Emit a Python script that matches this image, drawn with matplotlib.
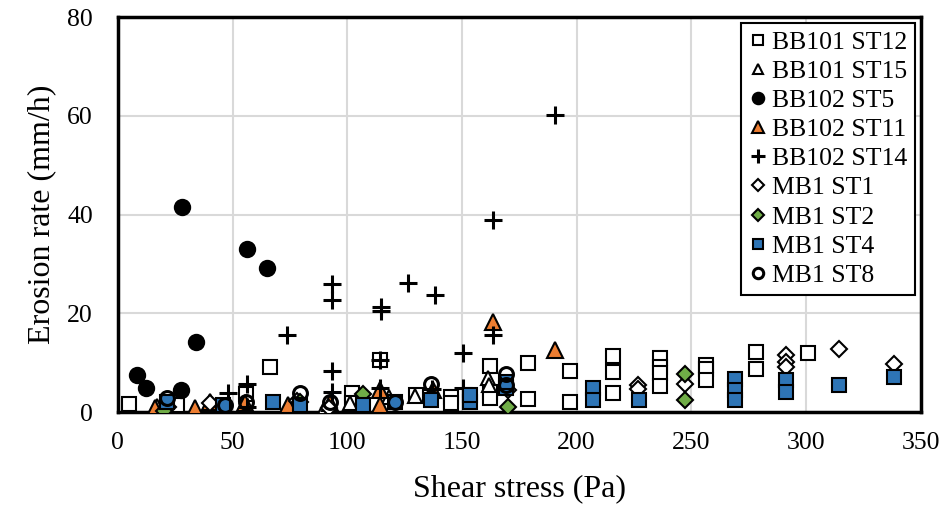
import matplotlib.pyplot as plt

plt.rcParams['font.family'] = ['Liberation Serif', 'DejaVu Serif']

# BB101 ST12 (open squares)
bb101_st12_x = [5, 25.6, 56, 66.3, 102, 102, 114.2, 130, 145.4, 145.4, 162.2, 162.2, 162.2,
                178.9, 178.9, 197, 197, 215.9, 215.9, 215.9, 236.3, 236.3, 236.3, 236.3,
                256.6, 256.6, 256.6, 278.4, 278.4, 301]
bb101_st12_y = [1.6, 1.4, 3.6, 9.2, 3.8, 1.8, 10.5, 3.4, 3.1, 1.8, 9.3, 4.0, 2.8,
                9.9, 2.6, 8.3, 2.1, 11.3, 8.2, 3.8, 10.9, 9.2, 7.9, 5.3,
                9.6, 8.8, 6.5, 12.2, 8.8, 11.9]

# BB101 ST15 (open triangles)
bb101_st15_x = [16.9, 40, 89.5, 101, 118, 129.5, 161.4, 162]
bb101_st15_y = [1.2, 2.0, 0.3, 1.8, 3.0, 3.2, 7.0, 5.5]

# BB102 ST5 (filled circles)
bb102_st5_x = [8.3, 12.2, 27.5, 27.8, 34, 56.1, 64.8]
bb102_st5_y = [7.5, 4.9, 4.5, 41.6, 14.2, 33.0, 29.2]

# BB102 ST11 (orange triangles)
bb102_st11_x = [16.1, 33.6, 40, 55.4, 74.2, 92.4, 114.2, 114.2, 137.5, 163.6, 190.8]
bb102_st11_y = [0.8, 0.8, 2.1, 1.8, 1.4, 1.8, 4.5, 1.5, 4.4, 18.3, 12.6]

# BB102 ST14 (plus)
bb102_st14_x = [48.1, 56.1, 56.1, 73.8, 93.4, 93.4, 93.4, 93.4, 114.9, 114.9, 114.2, 114.2,
                126.3, 137, 138.2, 150.4, 150.4, 163.6, 163.6, 190.5]
bb102_st14_y = [3.8, 5.8, 1.0, 15.6, 26.0, 22.7, 8.3, 4.1, 21.3, 20.5, 10.5, 5.0,
                26.2, 4.6, 23.8, 12.0, 4.8, 38.9, 15.6, 60.1]

# MB1 ST1 (open diamonds)
mb1_st1_x = [22, 40, 78, 92, 170, 226.8, 226.8, 247.2, 291.2, 291.2, 291.2, 314.4, 338.3]
mb1_st1_y = [1.0, 1.8, 2.2, 0.8, 4.5, 5.5, 4.6, 5.8, 11.5, 10.2, 9.2, 12.9, 9.8]

# MB1 ST2 (green diamonds)
mb1_st2_x = [20, 79.3, 107, 170.1, 247.2, 247.2]
mb1_st2_y = [0.3, 2.1, 3.6, 1.1, 7.8, 2.4]

# MB1 ST4 (blue squares)
mb1_st4_x = [21.2, 45.9, 67.7, 79.3, 107, 120.7, 136.7, 153.4, 153.4, 169.4, 169.4,
             207.2, 207.2, 227.2, 269, 269, 269, 291.2, 291.2, 314.4, 338.3]
mb1_st4_y = [2.1, 1.4, 2.1, 1.4, 1.4, 2.1, 2.4, 2.1, 3.4, 4.8, 6.1,
             4.8, 2.4, 2.4, 6.8, 4.5, 2.4, 6.5, 4.1, 5.5, 7.2]

# MB1 ST8 (open circles)
mb1_st8_x = [21.2, 46.6, 56, 79.3, 92.4, 120.7, 136.7, 169.4, 169.4]
mb1_st8_y = [2.8, 1.4, 2.1, 3.8, 2.0, 2.1, 5.8, 7.8, 5.5]

orange = '#ED7D31'
green = '#70AD47'
blue = '#2E75B6'

fig = plt.figure(figsize=(9.51, 5.07), dpi=100)
ax = fig.add_axes([0.124, 0.187, 0.844, 0.779])

ms = 10
ax.plot(bb101_st12_x, bb101_st12_y, 's', ms=ms, mfc='white', mec='black', mew=1.5, label='BB101 ST12', zorder=3)
ax.plot(bb101_st15_x, bb101_st15_y, '^', ms=ms, mfc='white', mec='black', mew=1.5, label='BB101 ST15', zorder=3)
ax.plot(bb102_st5_x, bb102_st5_y, 'o', ms=ms + 1, mfc='black', mec='black', mew=1.5, label='BB102 ST5', zorder=3)
ax.plot(bb102_st11_x, bb102_st11_y, '^', ms=ms + 1, mfc=orange, mec='black', mew=1.5, label='BB102 ST11', zorder=3)
ax.plot(bb102_st14_x, bb102_st14_y, '+', ms=ms + 3, mec='black', mew=2.2, label='BB102 ST14', zorder=3)
ax.plot(mb1_st1_x, mb1_st1_y, 'D', ms=ms - 2, mfc='white', mec='black', mew=1.5, label='MB1 ST1', zorder=3)
ax.plot(mb1_st2_x, mb1_st2_y, 'D', ms=ms - 2, mfc=green, mec='black', mew=1.5, label='MB1 ST2', zorder=3)
ax.plot(mb1_st4_x, mb1_st4_y, 's', ms=ms, mfc=blue, mec='black', mew=1.5, label='MB1 ST4', zorder=3)
ax.plot(mb1_st8_x, mb1_st8_y, 'o', ms=ms, mfc='none', mec='black', mew=2.2, label='MB1 ST8', zorder=3)

ax.set_xlim(0, 350)
ax.set_ylim(0, 80)
ax.set_xticks(range(0, 351, 50))
ax.set_yticks(range(0, 81, 20))
ax.grid(True, color='#d9d9d9', lw=1.5)
ax.set_axisbelow(True)
ax.tick_params(length=0, labelsize=18.5)
ax.tick_params(axis='x', pad=14)
ax.tick_params(axis='y', pad=18)
for s in ax.spines.values():
    s.set_linewidth(2.5)

ax.set_xlabel('Shear stress (Pa)', fontsize=23, labelpad=15)
ax.set_ylabel('Erosion rate (mm/h)', fontsize=23, labelpad=8)

leg = ax.legend(loc='upper right', fontsize=18.5, frameon=True, fancybox=False,
                edgecolor='black', framealpha=1, handlelength=0.7, handletextpad=0.2,
                borderaxespad=0.22, labelspacing=0.24, borderpad=0.3, markerscale=0.75)
leg.get_frame().set_linewidth(1.5)

fig.savefig('out.png', dpi=100)
